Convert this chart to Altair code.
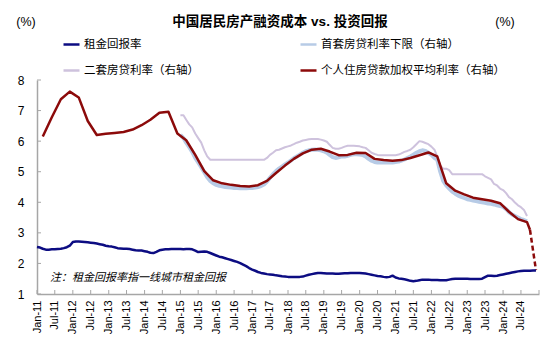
import altair as alt
import pandas as pd

# ---------------- data ----------------
S1 = "租金回报率"
S2 = "首套房贷利率下限（右轴）"
S3 = "二套房贷利率（右轴）"
S4 = "个人住房贷款加权平均利率（右轴）"

months = pd.date_range("2011-01-01", periods=168, freq="MS")

# rent return, monthly Jan-2011 .. Dec-2024
rent = [
    2.54, 2.52, 2.48, 2.45, 2.45, 2.46, 2.46, 2.47, 2.48, 2.50, 2.53, 2.58,
    2.70, 2.72, 2.72, 2.71, 2.70, 2.69, 2.68, 2.67, 2.65, 2.63, 2.61, 2.58,
    2.56, 2.55, 2.53, 2.50, 2.49, 2.48, 2.48, 2.47, 2.45, 2.43, 2.42, 2.42,
    2.40, 2.38, 2.35, 2.34, 2.38, 2.43, 2.45, 2.46, 2.46, 2.47, 2.47, 2.47,
    2.47, 2.46, 2.47, 2.47, 2.46, 2.42, 2.37, 2.38, 2.39, 2.38, 2.34, 2.30,
    2.26, 2.22, 2.20, 2.17, 2.14, 2.11, 2.08, 2.05, 2.01, 1.96, 1.91, 1.85,
    1.80, 1.76, 1.72, 1.69, 1.67, 1.65, 1.64, 1.63, 1.61, 1.60, 1.58, 1.57,
    1.56, 1.56, 1.56, 1.56, 1.56, 1.57, 1.60, 1.63, 1.65, 1.67, 1.69, 1.69,
    1.68, 1.67, 1.67, 1.67, 1.66, 1.66, 1.67, 1.68, 1.68, 1.69, 1.69, 1.69,
    1.69, 1.68, 1.67, 1.65, 1.63, 1.61, 1.59, 1.58, 1.56, 1.55, 1.56, 1.60,
    1.54, 1.51, 1.50, 1.48, 1.46, 1.43, 1.42, 1.43, 1.45, 1.47, 1.47, 1.47,
    1.46, 1.46, 1.46, 1.45, 1.45, 1.45, 1.47, 1.49, 1.50, 1.50, 1.50, 1.50,
    1.50, 1.49, 1.49, 1.49, 1.49, 1.50, 1.55, 1.60, 1.60, 1.59, 1.60, 1.62,
    1.64, 1.66, 1.68, 1.70, 1.72, 1.74, 1.75, 1.76, 1.76, 1.76, 1.77, 1.77,
]

# first-home lower limit, monthly Jan-2015 .. Sep-2024
first_home = [
    6.20, 6.10, 5.95, 5.80, 5.65, 5.45, 5.30, 5.15, 4.98, 4.82, 4.70, 4.62,
    4.57, 4.54, 4.52, 4.50, 4.49, 4.48, 4.47, 4.47, 4.46, 4.46, 4.46, 4.47,
    4.47, 4.48, 4.50, 4.53, 4.58, 4.68, 4.80, 4.92, 5.02, 5.10, 5.17, 5.24,
    5.30, 5.37, 5.44, 5.50, 5.56, 5.62, 5.67, 5.70, 5.72, 5.73, 5.72, 5.70,
    5.67, 5.62, 5.55, 5.48, 5.45, 5.47, 5.50, 5.50, 5.52, 5.55, 5.57, 5.57,
    5.56, 5.55, 5.50, 5.42, 5.36, 5.32, 5.30, 5.30, 5.30, 5.30, 5.30, 5.30,
    5.32, 5.33, 5.36, 5.40, 5.45, 5.50, 5.56, 5.62, 5.67, 5.70, 5.68, 5.62,
    5.55, 5.45, 5.40, 5.00, 4.70, 4.55, 4.45, 4.35, 4.28, 4.22, 4.18, 4.14,
    4.10, 4.08, 4.06, 4.04, 4.02, 4.00, 3.98, 3.96, 3.95, 3.93, 3.90, 3.88,
    3.85, 3.78, 3.68, 3.60, 3.55, 3.50, 3.45, 3.42, 3.38,
]

# second-home rate, monthly Jan-2015 .. Sep-2024
second_home = [
    6.85, 6.85, 6.70, 6.55, 6.45, 6.25, 6.10, 5.95, 5.70, 5.50, 5.39, 5.39,
    5.39, 5.39, 5.39, 5.39, 5.39, 5.39, 5.39, 5.39, 5.39, 5.39, 5.39, 5.39,
    5.39, 5.39, 5.39, 5.39, 5.39, 5.45, 5.55, 5.62, 5.70, 5.72, 5.76, 5.80,
    5.83, 5.86, 5.90, 5.95, 5.98, 6.02, 6.04, 6.06, 6.07, 6.07, 6.07, 6.05,
    6.02, 5.98, 5.88, 5.78, 5.75, 5.75, 5.78, 5.82, 5.85, 5.85, 5.85, 5.84,
    5.83, 5.80, 5.78, 5.70, 5.62, 5.58, 5.55, 5.54, 5.54, 5.54, 5.54, 5.54,
    5.54, 5.56, 5.60, 5.65, 5.68, 5.72, 5.80, 5.90, 6.00, 5.98, 5.94, 5.90,
    5.82, 5.72, 5.50, 5.20, 5.10, 5.10, 5.05, 4.92, 4.92, 4.92, 4.92, 4.92,
    4.92, 4.92, 4.92, 4.92, 4.92, 4.92, 4.85, 4.80, 4.75, 4.60, 4.55, 4.45,
    4.40, 4.30, 4.17, 4.10, 3.99, 3.90, 3.84, 3.75, 3.55,
]

# weighted average mortgage rate (quarterly points), month index from Jan-2011
avg_idx = [2, 5, 8, 11, 14, 17, 20, 23, 26, 29, 32, 35, 38, 41, 44, 47,
           50, 53, 56, 59, 62, 65, 68, 71, 74, 77, 80, 83, 86, 89, 92, 95,
           98, 101, 104, 107, 110, 113, 116, 119, 122, 125, 128, 131, 134, 137,
           140, 143, 146, 149, 152, 155, 158, 161, 164, 165]
avg_rate = [6.15, 6.78, 7.37, 7.62, 7.43, 6.66, 6.20, 6.24, 6.27, 6.30, 6.38, 6.52,
            6.70, 6.93, 6.96, 6.25, 6.03, 5.55, 5.02, 4.72, 4.62, 4.57, 4.53, 4.52,
            4.56, 4.70, 4.96, 5.20, 5.42, 5.60, 5.72, 5.75, 5.66, 5.54, 5.55, 5.62,
            5.61, 5.42, 5.38, 5.36, 5.38, 5.45, 5.54, 5.63, 5.50, 4.62, 4.38, 4.26,
            4.15, 4.10, 4.05, 3.97, 3.69, 3.45, 3.35, 3.10]
# dashed tail
tail_idx = [165, 167]
tail_rate = [3.10, 1.78]

x_ticks_half_year = pd.date_range("2011-01-01", "2025-01-01", freq="6MS")
y_ticks = [1, 2, 3, 4, 5, 6, 7, 8]

# ---------------- frames ----------------
df_rent = pd.DataFrame({"date": months, "value": rent, "series": S1})
df_first = pd.DataFrame({"date": months[48:48 + len(first_home)], "value": first_home, "series": S2})
df_second = pd.DataFrame({"date": months[48:48 + len(second_home)], "value": second_home, "series": S3})
df_avg = pd.DataFrame({"date": months[avg_idx], "value": avg_rate, "series": S4})
df_tail = pd.DataFrame({"date": months[tail_idx], "value": tail_rate})

W, H = 502, 214
FONT = "Liberation Sans, Noto Sans CJK SC, sans-serif"

x_scale = alt.Scale(domain=[alt.DateTime(year=2011, month=1, date=1),
                            alt.DateTime(year=2025, month=1, date=1)])
y_scale = alt.Scale(domain=[1, 8], nice=False, zero=False)

x_vals = [alt.DateTime(year=y, month=m, date=1) for y in range(2011, 2025) for m in (1, 7)]

x_axis = alt.Axis(values=x_vals, format="%b-%y", labelAngle=270,
                  labelFontSize=11, labelPadding=6, ticks=False,
                  grid=False, domainColor="#a6a6a6", domainWidth=1.5,
                  labelColor="#000000", labelOverlap=False, labelFlush=False)
y_axis = alt.Axis(values=y_ticks, labelFontSize=12, labelPadding=13,
                  ticks=False, grid=False, domainColor="#a6a6a6",
                  domainWidth=1.5, labelColor="#000000",
                  labelOverlap=False, labelFlush=False)

x_enc = alt.X("date:T", scale=x_scale, title=None, axis=x_axis)
y_enc = alt.Y("value:Q", scale=y_scale, title=None, axis=y_axis)

order = [S1, S3, S2, S4]
colors = {S1: "#0c0c82", S2: "#b7cbe6", S3: "#cec2dd", S4: "#8c0a0a"}
color_scale = alt.Scale(domain=order, range=[colors[s] for s in order])
legend = alt.Legend(orient="none", legendX=25, legendY=-45, columns=2,
                    columnPadding=96, rowPadding=11, title=None,
                    labelFontSize=11.5, labelColor="#000000", labelLimit=400,
                    symbolType="stroke", symbolSize=256, symbolStrokeWidth=2.5,
                    labelOffset=3)
color_enc = alt.Color("series:N", scale=color_scale, legend=legend, sort=order)


def line(df, width):
    return alt.Chart(df).mark_line(strokeWidth=width, strokeJoin="round").encode(
        x=x_enc, y=y_enc, color=color_enc)


l_second = line(df_second, 2)
l_first = line(df_first, 4)
l_avg = line(df_avg, 2.5)
l_rent = line(df_rent, 2.5)

l_tail = alt.Chart(df_tail).mark_line(strokeWidth=2.5, strokeDash=[5, 3],
                                      color="#8c0a0a").encode(x=x_enc, y=y_enc)

x_tick_marks = alt.Chart(pd.DataFrame({"date": x_ticks_half_year})).mark_rule(
    color="#a6a6a6", strokeWidth=1).encode(
    x=x_enc, y=alt.value(H), y2=alt.value(H - 4))
y_tick_marks = alt.Chart(pd.DataFrame({"value": y_ticks})).mark_rule(
    color="#a6a6a6", strokeWidth=1).encode(
    y=y_enc, x=alt.value(0), x2=alt.value(4))

title = alt.Chart(pd.DataFrame({"t": ["中国居民房产融资成本 vs. 投资回报"]})).mark_text(
    fontSize=13.5, fontWeight="bold", color="#000000", align="center",
    baseline="middle").encode(text="t:N", x=alt.value(243), y=alt.value(-58))
unit_l = alt.Chart(pd.DataFrame({"t": ["(%)"]})).mark_text(
    fontSize=12.5, color="#000000", align="center", baseline="middle").encode(
    text="t:N", x=alt.value(-11), y=alt.value(-58))
unit_r = alt.Chart(pd.DataFrame({"t": ["(%)"]})).mark_text(
    fontSize=12.5, color="#000000", align="center", baseline="middle").encode(
    text="t:N", x=alt.value(468), y=alt.value(-58))
note = alt.Chart(pd.DataFrame({"t": ["注：租金回报率指一线城市租金回报"]})).mark_text(
    fontSize=11, fontStyle="italic", color="#000000", align="left",
    baseline="middle").encode(text="t:N", x=alt.value(13), y=alt.value(198))

chart = alt.layer(
    x_tick_marks, y_tick_marks, l_second, l_first, l_avg, l_tail, l_rent,
    title, unit_l, unit_r, note
).properties(
    width=W, height=H, autosize="none",
    padding={"left": 37, "top": 80, "right": 11, "bottom": 60}
).configure(font=FONT).configure_view(strokeWidth=0)

chart.save("out.html", embed_options={"renderer": "svg", "actions": False})
